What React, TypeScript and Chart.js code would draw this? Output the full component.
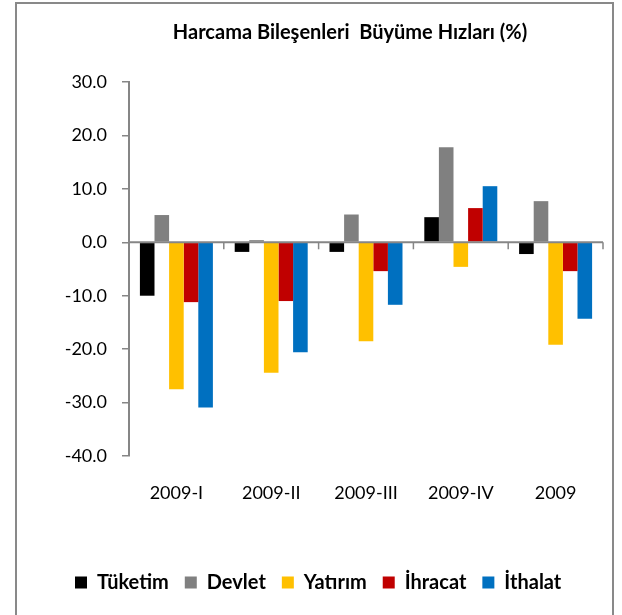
import React, { useEffect, useRef } from "react";
import { Chart, registerables } from "chart.js";

Chart.register(...registerables);

const categories = ["2009-I", "2009-II", "2009-III", "2009-IV", "2009"];
const tuketim = [-10.0, -1.8, -1.8, 4.7, -2.2];
const devlet = [5.1, 0.4, 5.2, 17.8, 7.7];
const yatirim = [-27.5, -24.4, -18.5, -4.6, -19.2];
const ihracat = [-11.2, -11.0, -5.4, 6.4, -5.4];
const ithalat = [-30.9, -20.6, -11.7, 10.5, -14.3];

const seriesNames = ["Tüketim", "Devlet", "Yatırım", "İhracat", "İthalat"];
const seriesColors = ["#000000", "#808080", "#FFC000", "#C00000", "#0070C0"];
const titleText = "Harcama Bileşenleri  Büyüme Hızları (%)";

const AXIS_COLOR = "#868686";

const zeroAxisPlugin = {
  id: "zeroAxis",
  afterDatasetsDraw(chart: any) {
    const { ctx, chartArea, scales } = chart;
    const y0 = scales.y.getPixelForValue(0);
    const xs = scales.x;
    ctx.save();
    ctx.strokeStyle = AXIS_COLOR;
    ctx.lineWidth = 2;
    ctx.beginPath();
    ctx.moveTo(chartArea.left, y0);
    ctx.lineTo(chartArea.right, y0);
    ctx.stroke();
    ctx.lineWidth = 1.5;
    const n = categories.length;
    for (let i = 1; i <= n; i++) {
      let x: number;
      if (i < n) {
        x = (xs.getPixelForTick(i - 1) + xs.getPixelForTick(i)) / 2;
      } else {
        x = chartArea.right;
      }
      ctx.beginPath();
      ctx.moveTo(x, y0);
      ctx.lineTo(x, y0 + 7);
      ctx.stroke();
    }
    ctx.restore();
  },
};

const titlePlugin = {
  id: "customTitle",
  afterDraw(chart: any) {
    const { ctx } = chart;
    ctx.save();
    ctx.font = "bold 20px Lato";
    ctx.fillStyle = "#000";
    ctx.textAlign = "center";
    ctx.textBaseline = "middle";
    ctx.fillText(titleText, 350, 33);
    ctx.restore();
  },
};

export default function App() {
  const canvasRef = useRef<HTMLCanvasElement | null>(null);

  useEffect(() => {
    if (!canvasRef.current) return;
    const dataSets = [tuketim, devlet, yatirim, ihracat, ithalat];
    const chart = new Chart(canvasRef.current, {
      type: "bar",
      data: {
        labels: categories,
        datasets: dataSets.map((d, i) => ({
          label: seriesNames[i],
          data: d,
          backgroundColor: seriesColors[i],
          borderWidth: 0,
          categoryPercentage: 0.77,
          barPercentage: 1.0,
        })),
      },
      options: {
        animation: false,
        responsive: false,
        maintainAspectRatio: false,
        layout: { padding: { left: 59, right: 19, top: 82, bottom: 12.5 } },
        plugins: {
          title: { display: false },
          tooltip: { enabled: false },
          legend: {
            display: true,
            position: "bottom",
            align: "start",
            labels: {
              boxWidth: 12,
              boxHeight: 12,
              padding: 16,
              color: "#000",
              font: { family: "Lato", size: 20, weight: "bold" },
            },
          },
        },
        scales: {
          x: {
            grid: { display: false, drawTicks: false },
            border: { display: false },
            ticks: {
              color: "#000",
              padding: 26,
              font: { family: "Lato", size: 18 },
              maxRotation: 0,
            },
            afterFit(scale: any) {
              scale.height = 100.5;
            },
          },
          y: {
            min: -40,
            max: 30,
            grid: {
              display: true,
              drawOnChartArea: false,
              drawTicks: true,
              tickLength: 7,
              color: AXIS_COLOR,
              lineWidth: 1.5,
            },
            border: { display: true, color: AXIS_COLOR, width: 2 },
            ticks: {
              stepSize: 10,
              color: "#000",
              padding: 15,
              font: { family: "Lato", size: 18 },
              callback: (v: any) => Number(v).toFixed(1),
            },
            afterFit(scale: any) {
              scale.width = 70;
            },
          },
        },
      },
      plugins: [zeroAxisPlugin, titlePlugin],
    });
    return () => chart.destroy();
  }, []);

  return (
    <div style={{ position: "fixed", left: 0, top: 0, width: 622, height: 615, background: "#fff", overflow: "hidden" }}>
      <div
        style={{
          position: "absolute",
          left: 15,
          top: 2,
          width: 595,
          height: 700,
          border: "2px solid #898989",
        }}
      />
      <canvas
        ref={canvasRef}
        width={622}
        height={615}
        style={{ position: "absolute", left: 0, top: 0, width: 622, height: 615 }}
      />
    </div>
  );
}
